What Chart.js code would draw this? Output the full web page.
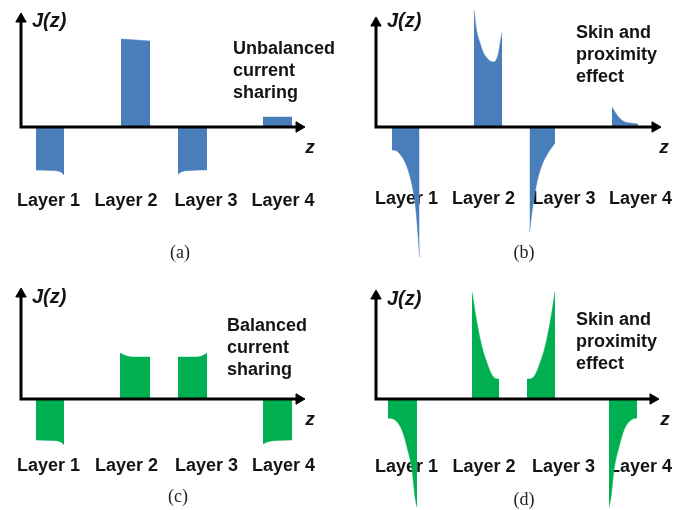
<!DOCTYPE html>
<html>
<head>
<meta charset="utf-8">
<script src="https://cdn.jsdelivr.net/npm/chart.js@4.4.0/dist/chart.umd.min.js"></script>
<style>
  html, body { margin: 0; padding: 0; background: #fff; overflow: hidden; }
  #wrap { position: relative; width: 687px; height: 510px; }
  canvas { position: absolute; }
</style>
</head>
<body>
<div id="wrap">
  <canvas id="chartA" width="355" height="272" style="left:0;top:0"></canvas>
  <canvas id="chartB" width="332" height="272" style="left:355px;top:0"></canvas>
  <canvas id="chartC" width="355" height="238" style="left:0;top:272px"></canvas>
  <canvas id="chartD" width="332" height="238" style="left:355px;top:272px"></canvas>
</div>
<script>
// z and J(z), in relative units (origin = axis corner)
const layerLabels = ['Layer 1', 'Layer 2', 'Layer 3', 'Layer 4'];

// (a) unbalanced current sharing
const aLayer1 = [[1.5, -4.3], [3.1, -4.35], [4.0, -4.5], [4.3, -4.8]];
const aLayer2 = [[10.0, 8.8], [11.5, 8.7], [12.9, 8.6]];
const aLayer3 = [[15.7, -4.75], [16.0, -4.5], [16.9, -4.35], [18.6, -4.3]];
const aLayer4 = [[24.2, 1.0], [27.1, 1.0]];

// (b) skin and proximity effect, unbalanced
const bLayer1 = [[1.6, -2.3], [2.0, -2.35], [2.3, -2.6], [2.8, -3.3], [3.3, -4.6], [3.7, -6.3], [4.0, -8.4], [4.2, -10.8], [4.35, -13.0]];
const bLayer2 = [[9.8, 11.7], [10.05, 9.7], [10.4, 8.4], [10.75, 7.4], [11.1, 6.9], [11.4, 6.6], [11.75, 6.5], [11.95, 6.6], [12.25, 7.4], [12.45, 8.6], [12.6, 9.4]];
const bLayer3 = [[15.35, -10.5], [15.6, -8.5], [15.8, -7.2], [16.1, -5.5], [16.6, -3.8], [17.2, -2.6], [17.9, -1.6]];
const bLayer4 = [[23.6, 2.0], [24.1, 1.2], [24.7, 0.6], [25.4, 0.4], [26.2, 0.3]];

// (c) balanced current sharing
const cLayer1 = [[1.5, -4.1], [3.1, -4.15], [4.0, -4.3], [4.3, -4.6]];
const cLayer2 = [[9.9, 4.6], [10.4, 4.35], [11.2, 4.2], [12.9, 4.2]];
const cLayer3 = [[15.7, 4.2], [17.4, 4.2], [18.2, 4.35], [18.6, 4.6]];
const cLayer4 = [[24.2, -4.5], [24.6, -4.3], [25.5, -4.15], [27.1, -4.1]];

// (d) skin and proximity effect, balanced
const dLayer1 = [[1.2, -1.9], [1.9, -2.1], [2.6, -3.1], [3.1, -4.8], [3.6, -7.1], [3.9, -9.8], [4.1, -10.8]];
const dLayer2 = [[9.6, 10.7], [10.1, 7.6], [10.6, 5.2], [11.1, 3.6], [11.6, 2.4], [12.1, 2.0], [12.3, 2.0]];
const dLayer3 = [[15.1, 2.0], [15.4, 2.0], [15.9, 2.4], [16.4, 3.6], [16.9, 5.2], [17.4, 7.6], [17.9, 10.7]];
const dLayer4 = [[23.3, -10.8], [23.5, -9.8], [23.8, -7.1], [24.3, -4.8], [24.8, -3.1], [25.5, -2.1], [26.1, -1.9]];

// axis arrow tips [J top, z end]
const axisTips = { a: [11.4, 28.4], b: [11.0, 28.5], c: [11.1, 28.4], d: [10.9, 28.3] };

const BLUE = '#4a7ebb';
const GREEN = '#00b050';

const panels = [
  { id: 'chartA', color: BLUE, layers: [aLayer1, aLayer2, aLayer3, aLayer4], tips: axisTips.a,
    note: ['Unbalanced', 'current', 'sharing'], noteAt: [212, -73], jAt: [11, -100], zAt: [289, 26],
    labelX: [27.5, 105, 185, 262], labelY: 79, caption: '(a)', capAt: [159, 126] },
  { id: 'chartB', color: BLUE, layers: [bLayer1, bLayer2, bLayer3, bLayer4], tips: axisTips.b,
    note: ['Skin and', 'proximity', 'effect'], noteAt: [200, -89], jAt: [11, -100], zAt: [288, 26],
    labelX: [30.5, 107.5, 188, 264.5], labelY: 77, caption: '(b)', capAt: [148, 126] },
  { id: 'chartC', color: GREEN, layers: [cLayer1, cLayer2, cLayer3, cLayer4], tips: axisTips.c,
    note: ['Balanced', 'current', 'sharing'], noteAt: [206, -68], jAt: [11, -96], zAt: [289, 26],
    labelX: [27.5, 105.5, 185.5, 262.5], labelY: 72, caption: '(c)', capAt: [157, 98] },
  { id: 'chartD', color: GREEN, layers: [dLayer1, dLayer2, dLayer3, dLayer4], tips: axisTips.d,
    note: ['Skin and', 'proximity', 'effect'], noteAt: [200, -74], jAt: [11, -94], zAt: [289, 26],
    labelX: [30.5, 108, 187.5, 264.5], labelY: 73, caption: '(d)', capAt: [148, 101] }
];

const SANS = '"Liberation Sans", Arial, sans-serif';

// texts go under the filled shapes (the spikes cross the layer labels)
const panelText = {
  id: 'panelText',
  beforeDatasetsDraw(chart, args, p) {
    const ctx = chart.ctx;
    const ox = chart.scales.x.getPixelForValue(0);
    const oy = chart.scales.y.getPixelForValue(0);
    ctx.save();
    ctx.fillStyle = '#141414';
    ctx.textBaseline = 'alphabetic';

    ctx.font = 'italic bold 20px ' + SANS;
    ctx.textAlign = 'left';
    ctx.fillText('J(z)', ox + p.jAt[0], oy + p.jAt[1]);
    ctx.textAlign = 'center';
    ctx.font = 'italic bold 19px ' + SANS;
    ctx.fillText('z', ox + p.zAt[0], oy + p.zAt[1]);

    ctx.font = 'bold 18px ' + SANS;
    ctx.textAlign = 'left';
    p.note.forEach((line, i) => {
      ctx.fillText(line, ox + p.noteAt[0], oy + p.noteAt[1] + i * 22);
    });
    ctx.textAlign = 'center';
    layerLabels.forEach((lab, i) => {
      ctx.fillText(lab, ox + p.labelX[i], oy + p.labelY);
    });

    ctx.font = '18px "Liberation Serif", "Times New Roman", serif';
    ctx.fillStyle = '#222';
    ctx.textBaseline = 'middle';
    ctx.fillText(p.caption, ox + p.capAt[0], oy + p.capAt[1]);
    ctx.restore();
  }
};

const toPts = arr => arr.map(d => ({ x: d[0], y: d[1] }));

panels.forEach(p => {
  const canvas = document.getElementById(p.id);
  const px = 10; // pixels per unit
  const xMin = -2.1, yMax = 12.7;
  const xMax = xMin + canvas.width / px;
  const yMin = yMax - canvas.height / px;
  const arrowR = 6;
  const [jTip, zTip] = p.tips;

  const layerSets = p.layers.map(l => ({
    data: toPts(l),
    fill: 'origin',
    backgroundColor: p.color,
    borderColor: p.color,
    borderWidth: 0.5,
    pointRadius: 0,
    cubicInterpolationMode: 'monotone',
    order: 2
  }));

  const axisSet = {
    data: [{ x: 0, y: jTip - 0.5 }, { x: 0, y: 0 }, { x: zTip - 0.5, y: 0 }],
    borderColor: '#000',
    borderWidth: 3,
    borderCapStyle: 'butt',
    borderJoinStyle: 'miter',
    pointRadius: 0,
    tension: 0,
    fill: false,
    order: 1
  };

  const arrowSet = {
    data: [{ x: 0, y: jTip - arrowR / px }, { x: zTip - arrowR / px, y: 0 }],
    showLine: false,
    pointStyle: 'triangle',
    pointRadius: arrowR,
    rotation: [0, 90],
    backgroundColor: '#000',
    borderColor: '#000',
    borderWidth: 1,
    order: 0
  };

  new Chart(canvas.getContext('2d'), {
    type: 'line',
    data: { datasets: [arrowSet, axisSet, ...layerSets] },
    options: {
      responsive: false,
      animation: false,
      devicePixelRatio: 1,
      events: [],
      layout: { padding: 0, autoPadding: false },
      scales: {
        x: { type: 'linear', min: xMin, max: xMax, display: false },
        y: { type: 'linear', min: yMin, max: yMax, display: false }
      },
      plugins: {
        legend: { display: false },
        tooltip: { enabled: false },
        panelText: p
      }
    },
    plugins: [panelText]
  });
});
</script>
</body>
</html>
